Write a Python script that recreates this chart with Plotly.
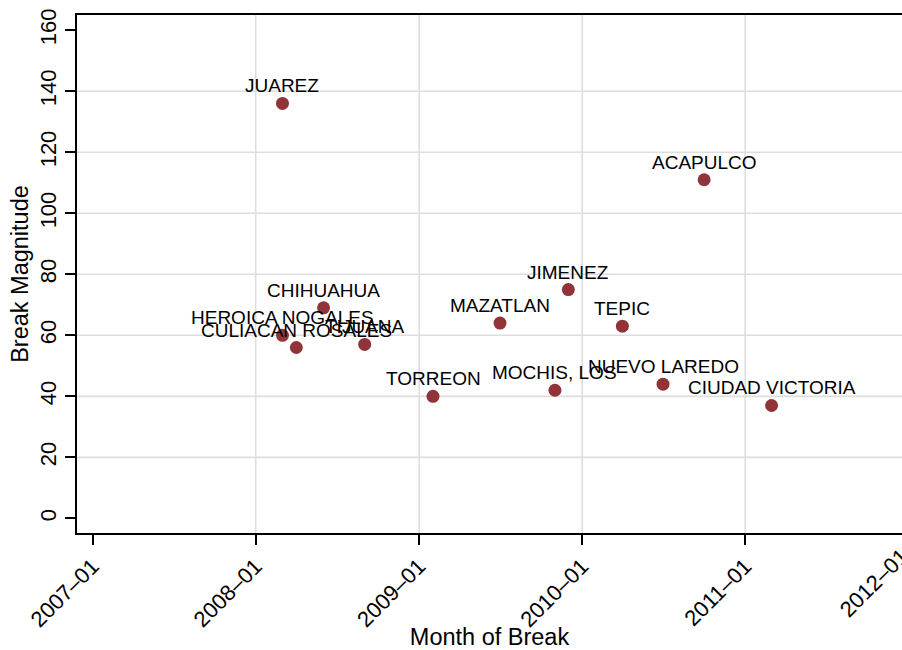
import plotly.graph_objects as go
import pandas as pd

cities = ["JUAREZ", "HEROICA NOGALES", "CULIACAN ROSALES", "CHIHUAHUA", "TIJUANA",
          "TORREON", "MAZATLAN", "MOCHIS, LOS", "JIMENEZ", "TEPIC",
          "NUEVO LAREDO", "ACAPULCO", "CIUDAD VICTORIA"]
break_month = ["2008-03-01", "2008-03-01", "2008-04-01", "2008-06-01", "2008-09-01",
               "2009-02-01", "2009-07-01", "2009-11-01", "2009-12-01", "2010-04-01",
               "2010-07-01", "2010-10-01", "2011-03-01"]
magnitude = [136, 60, 56, 69, 57, 40, 64, 42, 75, 63, 44, 111, 37]

x_tick_vals = ["2007-01-01", "2008-01-01", "2009-01-01", "2010-01-01", "2011-01-01", "2012-01-01"]
x_tick_text = ["2007\u201301", "2008\u201301", "2009\u201301", "2010\u201301", "2011\u201301", "2012\u201301"]
x_grid_vals = x_tick_vals[1:5]
y_tick_vals = [0, 20, 40, 60, 80, 100, 120, 140, 160]
y_grid_vals = y_tick_vals[1:-1]

x_range = ["2006-11-27", "2011-12-18"]
y_range = [-4.8, 165]

FONT = "Liberation Sans, Arial, Helvetica, sans-serif"
MARKER = "#903439"
GRID = "#dedede"

fig = go.Figure()
fig.add_trace(go.Scatter(
    x=break_month, y=magnitude,
    mode="markers",
    marker=dict(color=MARKER, size=13, line=dict(width=0)),
    cliponaxis=False, hoverinfo="skip",
))

shapes = []
for v in y_grid_vals:
    shapes.append(dict(type="line", xref="paper", x0=0, x1=1, yref="y", y0=v, y1=v,
                       line=dict(color=GRID, width=1.6), layer="below"))
for v in x_grid_vals:
    shapes.append(dict(type="line", xref="x", x0=v, x1=v, yref="paper", y0=0, y1=1,
                       line=dict(color=GRID, width=1.6), layer="below"))

annotations = []
for c, d, m in zip(cities, break_month, magnitude):
    annotations.append(dict(
        text=c, x=d, y=m, xref="x", yref="y",
        xanchor="center", yanchor="bottom", yshift=5, showarrow=False,
        font=dict(family=FONT, size=19, color="black"),
    ))

# the 2012-01 tick label falls just outside the visible plot area
r0 = pd.Timestamp(x_range[0]); r1 = pd.Timestamp(x_range[1])
frac_2012 = (pd.Timestamp(x_tick_vals[-1]) - r0) / (r1 - r0)
annotations.append(dict(
    text=x_tick_text[-1], xref="paper", yref="paper", x=frac_2012, y=0,
    xanchor="center", yanchor="middle", xshift=-34, yshift=-49.5,
    textangle=-45, showarrow=False,
    font=dict(family=FONT, size=22, color="black"),
))

fig.update_layout(
    width=902, height=650,
    margin=dict(l=77, r=0, t=15, b=117, autoexpand=False),
    paper_bgcolor="white", plot_bgcolor="white",
    showlegend=False,
    font=dict(family=FONT, color="black"),
    shapes=shapes,
    annotations=annotations,
)
fig.update_xaxes(
    type="date", range=x_range, automargin=False,
    tickvals=x_tick_vals, ticktext=x_tick_text, tickangle=-45,
    tickfont=dict(family=FONT, size=22, color="black"),
    ticks="outside", ticklen=10, tickwidth=1.5, tickcolor="black",
    showline=True, linecolor="black", linewidth=1.5, mirror=True,
    showgrid=False, zeroline=False,
    title=dict(text="Month of Break", font=dict(family=FONT, size=23.5, color="black"), standoff=6),
)
fig.update_yaxes(
    range=y_range, tickvals=y_tick_vals, tickangle=-90, automargin=False,
    tickfont=dict(family=FONT, size=22, color="black"),
    ticks="outside", ticklen=10, tickwidth=1.5, tickcolor="black",
    showline=True, linecolor="black", linewidth=1.5, mirror=False,
    showgrid=False, zeroline=False,
    title=dict(text="Break Magnitude", font=dict(family=FONT, size=23.5, color="black"), standoff=1),
)

fig.write_html(
    "out.html",
    config={"displayModeBar": False},
    post_script="document.body.style.margin='0';document.body.style.overflow='hidden';",
)
